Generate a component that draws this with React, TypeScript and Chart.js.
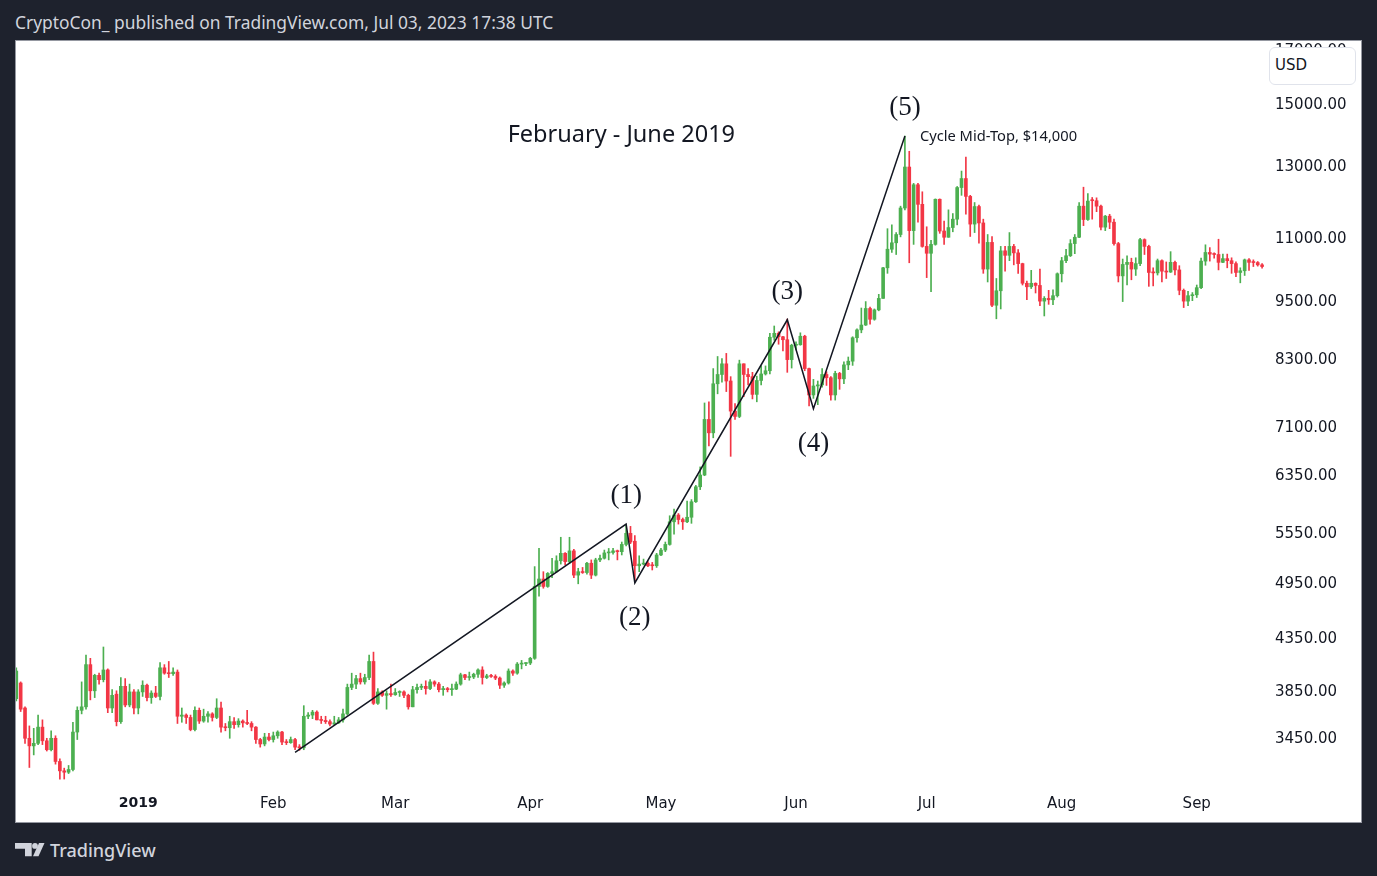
import React, { useEffect, useRef } from 'react';
import { Chart, registerables } from 'chart.js';
Chart.register(...registerables);

// Daily candles [open, high, low, close], first day = 2018-12-04
const dec2018 = [
  [3770, 4050, 3750, 4020], [3910, 3920, 3660, 3680], [3690, 3700, 3400, 3440], [3440, 3540, 3215, 3380],
  [3380, 3520, 3310, 3400], [3400, 3630, 3390, 3530], [3530, 3590, 3390, 3420], [3420, 3440, 3340, 3350],
  [3350, 3500, 3340, 3440], [3440, 3460, 3240, 3260], [3260, 3280, 3130, 3190], [3190, 3210, 3130, 3180],
  [3180, 3230, 3170, 3200], [3200, 3570, 3190, 3490], [3490, 3700, 3430, 3670], [3670, 3920, 3640, 3700],
  [3700, 4170, 3680, 4080], [4080, 4140, 3760, 3840], [3840, 3990, 3780, 3980], [3980, 4000, 3900, 3940],
  [3940, 4250, 3920, 4030], [4030, 4040, 3650, 3690], [3690, 3850, 3650, 3800], [3810, 3840, 3540, 3575],
  [3575, 3960, 3560, 3880], [3880, 3950, 3700, 3716], [3716, 3900, 3700, 3830], [3830, 3850, 3640, 3690],
];
const jan2019 = [
  [3690, 3850, 3640, 3830], [3830, 3930, 3790, 3890], [3890, 3900, 3750, 3780], [3780, 3840, 3730, 3820],
  [3820, 3880, 3780, 3790], [3790, 4100, 3760, 4050], [4050, 4080, 3990, 4000], [4000, 4110, 3960, 3995],
  [3995, 4050, 3980, 4010], [4010, 4030, 3560, 3620], [3620, 3690, 3570, 3630], [3630, 3640, 3560, 3610],
  [3610, 3630, 3500, 3510], [3510, 3700, 3500, 3670], [3670, 3690, 3560, 3580], [3580, 3680, 3570, 3620],
  [3620, 3660, 3570, 3640], [3640, 3650, 3580, 3610], [3610, 3770, 3600, 3690], [3690, 3740, 3490, 3530],
  [3530, 3560, 3500, 3525], [3525, 3620, 3440, 3575], [3575, 3610, 3520, 3550], [3550, 3600, 3530, 3580],
  [3580, 3590, 3530, 3565], [3565, 3670, 3550, 3560], [3560, 3575, 3500, 3530], [3530, 3535, 3400, 3430],
  [3430, 3440, 3370, 3395], [3395, 3480, 3380, 3450], [3450, 3480, 3420, 3430],
];
const feb2019 = [
  [3430, 3490, 3410, 3460], [3460, 3500, 3440, 3490], [3490, 3495, 3390, 3410], [3410, 3430, 3390, 3405],
  [3405, 3450, 3400, 3430], [3430, 3440, 3350, 3370], [3370, 3390, 3345, 3365], [3365, 3710, 3350, 3620],
  [3620, 3650, 3600, 3630], [3630, 3670, 3600, 3655], [3655, 3665, 3590, 3590], [3590, 3620, 3560, 3585],
  [3585, 3620, 3560, 3575], [3575, 3590, 3540, 3555], [3555, 3620, 3550, 3565], [3565, 3610, 3560, 3590],
  [3590, 3680, 3570, 3640], [3640, 3900, 3630, 3870], [3870, 4000, 3850, 3900], [3900, 3980, 3860, 3950],
  [3950, 4000, 3900, 3920], [3920, 3990, 3900, 3960], [3960, 4170, 3940, 4110], [4110, 4200, 3720, 3730],
  [3730, 3860, 3720, 3830], [3830, 3840, 3790, 3800], [3800, 3840, 3680, 3815], [3815, 3900, 3790, 3805],
];
const mar2019 = [
  [3805, 3860, 3800, 3825], [3825, 3840, 3790, 3830], [3830, 3840, 3780, 3800], [3800, 3810, 3680, 3700],
  [3700, 3880, 3700, 3850], [3850, 3900, 3820, 3870], [3870, 3900, 3850, 3880], [3880, 3930, 3810, 3860],
  [3860, 3940, 3850, 3920], [3920, 3930, 3880, 3900], [3900, 3915, 3830, 3850], [3850, 3880, 3800, 3860],
  [3860, 3870, 3830, 3850], [3850, 3900, 3800, 3855], [3855, 3920, 3850, 3900], [3900, 4000, 3890, 3985],
  [3985, 3990, 3940, 3960], [3960, 4010, 3935, 3965], [3965, 4000, 3950, 3990], [3990, 4040, 3960, 4030],
  [4030, 4060, 3900, 3960], [3960, 3990, 3950, 3975], [3975, 3990, 3960, 3970], [3970, 3985, 3940, 3955],
  [3955, 3965, 3860, 3890], [3890, 3920, 3870, 3910], [3910, 4040, 3900, 4020], [4020, 4030, 3980, 4000],
  [4000, 4100, 3990, 4085], [4085, 4120, 4040, 4090], [4090, 4100, 4070, 4095],
];
const apr2019 = [
  [4095, 4150, 4080, 4140], [4140, 5120, 4130, 4890], [4890, 5340, 4780, 4975], [4975, 5060, 4870, 4890],
  [4890, 5050, 4880, 5040], [5040, 5220, 4990, 5060], [5060, 5250, 5050, 5190], [5190, 5480, 5150, 5280],
  [5280, 5290, 5140, 5180], [5180, 5480, 5160, 5310], [5310, 5330, 4990, 5020], [5020, 5100, 4920, 5060],
  [5060, 5110, 5040, 5050], [5050, 5170, 5030, 5160], [5160, 5200, 4980, 5020], [5020, 5220, 5010, 5200],
  [5200, 5260, 5180, 5220], [5220, 5320, 5210, 5285], [5285, 5340, 5200, 5290], [5290, 5340, 5270, 5310],
  [5310, 5320, 5200, 5300], [5300, 5420, 5260, 5390], [5390, 5640, 5370, 5530], [5530, 5620, 5400, 5420],
  [5430, 5500, 4940, 5130], [5130, 5250, 5060, 5150], [5150, 5210, 5140, 5160], [5160, 5180, 5120, 5130],
  [5140, 5170, 5080, 5130], [5130, 5280, 5110, 5260],
];
const may2019 = [
  [5260, 5340, 5250, 5320], [5320, 5420, 5300, 5390], [5390, 5760, 5380, 5680], [5680, 5850, 5520, 5770],
  [5770, 5790, 5650, 5710], [5710, 5730, 5580, 5680], [5680, 5960, 5670, 5740], [5740, 5980, 5660, 5950],
  [5950, 6180, 5940, 6160], [6160, 6450, 6120, 6330], [6330, 7480, 6320, 7200], [7200, 7500, 6770, 6980],
  [6980, 8100, 6900, 7820], [7820, 8330, 7640, 7990], [7990, 8290, 7850, 8190], [8190, 8390, 7680, 7870],
  [7870, 7950, 6610, 7340], [7340, 7470, 7200, 7250], [7250, 8260, 7230, 8190], [8190, 8190, 7590, 7990],
  [7990, 8100, 7800, 7950], [7950, 8030, 7550, 7630], [7630, 7960, 7500, 7880], [7880, 8150, 7800, 8000],
  [8000, 8150, 7980, 8060], [8060, 8790, 8000, 8710], [8710, 8940, 8650, 8790], [8790, 8820, 8570, 8720],
  [8720, 8730, 8440, 8660], [8660, 9085, 8030, 8270], [8270, 8570, 8110, 8550],
];
const jun2019 = [
  [8550, 8620, 8460, 8560], [8560, 8800, 8550, 8730], [8730, 8750, 8060, 8100], [8100, 8110, 7430, 7620],
  [7620, 7900, 7560, 7780], [7780, 7870, 7450, 7800], [7800, 8100, 7760, 7990], [7990, 8040, 7790, 7930],
  [7930, 7950, 7530, 7620], [7620, 8050, 7530, 8010], [8010, 8030, 7720, 7910], [7910, 8230, 7820, 8170],
  [8170, 8320, 8080, 8240], [8240, 8720, 8160, 8700], [8700, 8880, 8610, 8860], [8860, 9320, 8800, 8960],
  [8960, 9460, 8950, 9310], [9310, 9340, 8980, 9080], [9080, 9300, 9060, 9280], [9280, 9620, 9260, 9530],
  [9530, 10240, 9530, 10230], [10230, 11200, 10100, 10680], [10680, 11300, 10600, 10840], [10840, 11100, 10550, 11050],
  [11050, 11800, 10990, 11750], [11750, 13880, 11700, 12920], [12920, 13400, 10350, 11150], [11150, 12440, 10800, 12400],
  [12400, 12440, 11370, 11850], [11850, 12200, 10730, 10750],
];
const jul2019 = [
  [10750, 11250, 10000, 10580], [10580, 10900, 9680, 10800], [10800, 12000, 10780, 11990], [11990, 12000, 11080, 11140],
  [11140, 11400, 10800, 10980], [10980, 11700, 10980, 11230], [11230, 11600, 11120, 11450], [11450, 12350, 11300, 12320],
  [12320, 12800, 12100, 12580], [12580, 13220, 11580, 12070], [12070, 12100, 11000, 11320], [11320, 11900, 11100, 11790],
  [11790, 11830, 10830, 11350], [11350, 11450, 10100, 10200], [10200, 11050, 9900, 10850], [10850, 11000, 9350, 9380],
  [9380, 9980, 9090, 9700], [9700, 10750, 9300, 10640], [10640, 10750, 10150, 10530], [10530, 11100, 10400, 10750],
  [10750, 10800, 10300, 10590], [10590, 10670, 10100, 10330], [10330, 10340, 9830, 9870], [9870, 9920, 9500, 9790],
  [9790, 10170, 9750, 9870], [9870, 9880, 9650, 9820], [9820, 10200, 9370, 9470], [9470, 9570, 9150, 9530],
  [9530, 9710, 9400, 9500], [9500, 9720, 9390, 9590], [9590, 10110, 9560, 10090],
];
const aug2019 = [
  [10090, 10480, 9900, 10400], [10400, 10680, 10350, 10520], [10520, 10920, 10500, 10820], [10820, 11050, 10570, 10980],
  [10980, 11900, 10970, 11800], [11800, 12330, 11280, 11440], [11440, 12150, 11420, 11940], [11960, 12040, 11450, 11950],
  [11950, 12030, 11650, 11800], [11800, 11830, 11170, 11240], [11240, 11550, 11150, 11530], [11530, 11580, 11200, 11370],
  [11370, 11450, 10780, 10820], [10820, 10850, 9900, 10040], [10040, 10440, 9460, 10310], [10310, 10520, 9830, 10360],
  [10360, 10460, 9950, 10200], [10200, 10470, 10050, 10330], [10330, 10950, 10280, 10920], [10920, 10940, 10550, 10750],
  [10750, 10780, 9800, 10120], [10120, 10230, 9810, 10110], [10110, 10440, 10060, 10400], [10400, 10420, 9900, 10150],
  [10150, 10370, 9980, 10130], [10130, 10620, 10120, 10360], [10360, 10390, 10060, 10180], [10180, 10280, 9610, 9710],
  [9710, 9740, 9330, 9470], [9470, 9690, 9370, 9590], [9590, 9660, 9480, 9610],
];
const sep2019 = [
  [9610, 9830, 9550, 9770], [9770, 10460, 9750, 10390], [10390, 10790, 10290, 10600], [10600, 10720, 10390, 10560],
  [10560, 10590, 10460, 10550], [10550, 10930, 10180, 10360], [10360, 10560, 10350, 10450], [10450, 10560, 10230, 10400],
  [10400, 10470, 10100, 10330], [10330, 10370, 10020, 10120], [10120, 10230, 9880, 10160], [10160, 10440, 10050, 10420],
  [10420, 10450, 10170, 10360], [10360, 10420, 10260, 10355], [10355, 10380, 10270, 10300], [10300, 10330, 10220, 10260],
];

const candles: number[][] = [
  ...dec2018, ...jan2019, ...feb2019, ...mar2019, ...apr2019,
  ...may2019, ...jun2019, ...jul2019, ...aug2019, ...sep2019,
];

// Time axis: index of first day of each month (day 0 = 2018-12-04)
const monthTickIdx = [28, 59, 87, 118, 148, 179, 209, 240, 271];
const monthTickLabels = ['2019', 'Feb', 'Mar', 'Apr', 'May', 'Jun', 'Jul', 'Aug', 'Sep'];

// Price axis ticks
const priceTicks = [3450, 3850, 4350, 4950, 5550, 6350, 7100, 8300, 9500, 11000, 13000, 15000, 17000];

// Elliott wave drawing points (day index, price)
const waveIdx = [64, 140, 142, 177, 183, 204];
const wavePrice = [3330, 5650, 4930, 9070, 7380, 13880];
const waveLabels = ['', '(1)', '(2)', '(3)', '(4)', '(5)'];

const titleText = 'February - June 2019';
const titleIdx = 138.9;
const titlePrice = 13930;
const peakNote = 'Cycle Mid-Top, $14,000';

const UP = '#4caf50';
const DOWN = '#f23645';
const INK = '#131722';

const annotPlugin = {
  id: 'annot',
  afterDatasetsDraw(chart: any) {
    const { ctx, scales } = chart;
    const x = scales.x;
    const y = scales.y;
    ctx.save();
    ctx.fillStyle = INK;
    ctx.textAlign = 'center';
    ctx.textBaseline = 'middle';
    ctx.font = '27px "Liberation Serif"';
    waveLabels.forEach((t, i) => {
      if (!t) return;
      const px = x.getPixelForValue(waveIdx[i]);
      const py = y.getPixelForValue(wavePrice[i]);
      const up = i % 2 === 1;
      ctx.fillText(t, px, up ? py - 28 : py + 35);
    });
    ctx.font = '23.5px "Noto Sans"';
    ctx.fillText(titleText, x.getPixelForValue(titleIdx), y.getPixelForValue(titlePrice) + 1);
    ctx.textAlign = 'left';
    ctx.font = '14.7px "Noto Sans"';
    ctx.fillText(peakNote, x.getPixelForValue(waveIdx[5]) + 15, y.getPixelForValue(wavePrice[5]) + 1);

    // price scale labels
    ctx.font = '15px "DejaVu Sans"';
    ctx.textAlign = 'left';
    priceTicks.forEach((v) => {
      ctx.fillText(v.toFixed(2), y.left + 10, y.getPixelForValue(v) + 2.5);
    });
    ctx.restore();
  },
};

export default function App() {
  const ref = useRef<HTMLCanvasElement | null>(null);

  useEffect(() => {
    document.body.style.margin = '0';
    document.body.style.background = '#1e222d';
    if (!ref.current) return;
    const bodies = candles.map((c, i) => ({ x: i, y: [c[0], c[3]] }));
    const wicks = candles.map((c, i) => ({ x: i, y: [c[2], c[1]] }));
    const colors = candles.map((c) => (c[3] >= c[0] ? UP : DOWN));
    const wave = waveIdx.map((v, i) => ({ x: v, y: wavePrice[i] }));

    const chart = new Chart(ref.current, {
      type: 'bar',
      data: {
        datasets: [
          {
            type: 'line',
            data: wave,
            borderColor: INK,
            borderWidth: 1.5,
            pointRadius: 0,
            tension: 0,
            order: 0,
          } as any,
          {
            data: bodies,
            backgroundColor: colors,
            borderWidth: 0,
            barThickness: 3,
            minBarLength: 1,
            grouped: false,
            order: 1,
          } as any,
          {
            data: wicks,
            backgroundColor: colors,
            borderWidth: 0,
            barThickness: 1,
            minBarLength: 1,
            grouped: false,
            order: 2,
          } as any,
        ],
      },
      options: {
        animation: false,
        responsive: false,
        maintainAspectRatio: false,
        layout: { padding: 0 },
        plugins: { legend: { display: false }, tooltip: { enabled: false } },
        events: [],
        scales: {
          x: {
            type: 'linear',
            min: -0.07,
            max: 286.67,
            offset: false,
            grid: { display: false, drawTicks: false },
            border: { display: false },
            afterBuildTicks: (s: any) => {
              s.ticks = monthTickIdx.map((v) => ({ value: v }));
            },
            afterFit: (s: any) => {
              s.height = 36;
              s.paddingLeft = 0;
              s.paddingRight = 0;
            },
            ticks: {
              autoSkip: false,
              maxRotation: 0,
              padding: 9,
              color: INK,
              font: (c: any) =>
                c.tick && c.tick.value === monthTickIdx[0]
                  ? { family: 'DejaVu Sans', size: 14, weight: 'bold' }
                  : { family: 'DejaVu Sans', size: 15 },
              callback: (v: any) => {
                const k = monthTickIdx.indexOf(Number(v));
                return k >= 0 ? monthTickLabels[k] : '';
              },
            },
          } as any,
          y: {
            type: 'logarithmic',
            position: 'right',
            min: 3080,
            max: 17300,
            grid: { display: false, drawTicks: false },
            border: { display: false },
            afterBuildTicks: (s: any) => {
              s.ticks = priceTicks.map((v) => ({ value: v }));
            },
            afterFit: (s: any) => {
              s.width = 96;
              s.paddingTop = 0;
              s.paddingBottom = 0;
            },
            ticks: { display: false },
          } as any,
        },
      },
      plugins: [annotPlugin],
    } as any);
    return () => chart.destroy();
  }, []);

  return (
    <div style={{ position: 'fixed', left: 0, top: 0, width: 1377, height: 876, background: '#1e222d', overflow: 'hidden' }}>
      <div
        style={{
          position: 'absolute', left: 15, top: 10, color: '#d1d4dc',
          font: '17.4px "Noto Sans", sans-serif', lineHeight: '24px', whiteSpace: 'nowrap',
        }}
      >
        CryptoCon_ published on TradingView.com, Jul 03, 2023 17:38 UTC
      </div>
      <div
        style={{
          position: 'absolute', left: 15, top: 40, width: 1345, height: 781,
          background: '#ffffff', border: '1px solid #9598a1',
        }}
      >
        <canvas ref={ref} width={1345} height={781} style={{ display: 'block', width: 1345, height: 781 }} />
        <div
          style={{
            position: 'absolute', left: 1253, top: 6, width: 87, height: 38, boxSizing: 'border-box',
            background: '#ffffff', border: '1px solid #e0e3eb', borderRadius: 6,
            font: '15px "DejaVu Sans", sans-serif', color: INK, lineHeight: '34px', paddingLeft: 5,
          }}
        >
          USD
        </div>
      </div>
      <div style={{ position: 'absolute', left: 15, top: 838, display: 'flex', alignItems: 'center', height: 24 }}>
        <svg width="30" height="14" viewBox="0 0 30 14" style={{ display: 'block' }}>
          <path d="M0 0 H16.7 V13.3 H10 V5.7 H0 Z" fill="#d1d4dc" />
          <circle cx="20" cy="2.9" r="2.9" fill="#d1d4dc" />
          <path d="M24 0 H29.5 L23.5 13.3 H18 Z" fill="#d1d4dc" />
        </svg>
        <span style={{ marginLeft: 5, font: '500 18px "Noto Sans", sans-serif', color: '#d1d4dc' }}>TradingView</span>
      </div>
    </div>
  );
}
